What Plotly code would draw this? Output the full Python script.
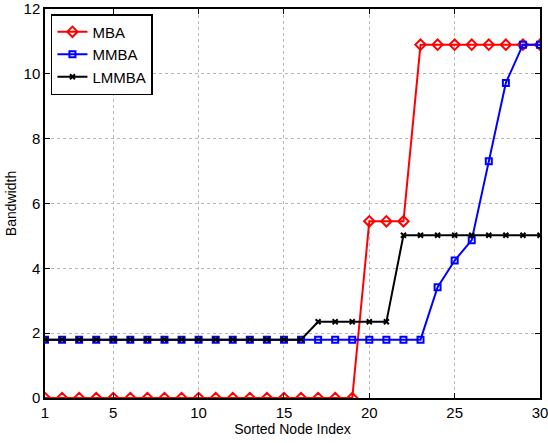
import plotly.graph_objects as go

x = list(range(1, 31))
mba = [0.0]*19 + [5.45]*3 + [10.9]*8
mmba = [1.8]*23 + [3.42, 4.24, 4.87, 7.3, 9.72, 10.9, 10.9]
lmmba = [1.8]*16 + [2.35]*5 + [5.02]*9

xticks = [1, 5, 10, 15, 20, 25, 30]
yticks = [0, 2, 4, 6, 8, 10, 12]

fig = go.Figure()
fig.add_trace(go.Scatter(x=x, y=mba, name="MBA", mode="lines+markers",
                         line=dict(color="#ff0000", width=2),
                         marker=dict(symbol="diamond-open", size=8, color="#ff0000", line=dict(width=2))))
fig.add_trace(go.Scatter(x=x, y=mmba, name="MMBA", mode="lines+markers",
                         line=dict(color="#0000ff", width=2),
                         marker=dict(symbol="square-open", size=6, color="#0000ff", line=dict(width=2))))
fig.add_trace(go.Scatter(x=x, y=lmmba, name="LMMBA", mode="lines+markers",
                         line=dict(color="#000000", width=2),
                         marker=dict(symbol="x-thin-open", size=5, color="#000000", line=dict(width=2))))

axis_common = dict(showline=True, linecolor="black", linewidth=1.5, mirror="ticks",
                   ticks="inside", ticklen=5, tickcolor="black", tickwidth=1,
                   showgrid=True, gridcolor="#b8b8b8", griddash="dot", gridwidth=1,
                   zeroline=False, tickfont=dict(size=15, color="black"), automargin=False,
                   ticklabeloverflow="allow")

fig.update_xaxes(range=[1, 30], tickvals=xticks,
                 title=dict(text="Sorted Node Index", font=dict(size=14, color="black"), standoff=0),
                 **axis_common)
fig.update_yaxes(range=[0, 12], tickvals=yticks,
                 title=dict(text="Bandwidth", font=dict(size=14, color="black"), standoff=4),
                 **axis_common)

fig.update_layout(width=548, height=443, margin=dict(l=45, r=8, t=9, b=45),
                  paper_bgcolor="white", plot_bgcolor="white",
                  font=dict(family="Liberation Sans, Arial, sans-serif", color="black"),
                  legend=dict(x=0.012, y=0.987, xanchor="left", yanchor="top",
                              bgcolor="white", bordercolor="black", borderwidth=1.5,
                              font=dict(size=15), tracegroupgap=0, itemwidth=30))
fig.write_html("out.html")
